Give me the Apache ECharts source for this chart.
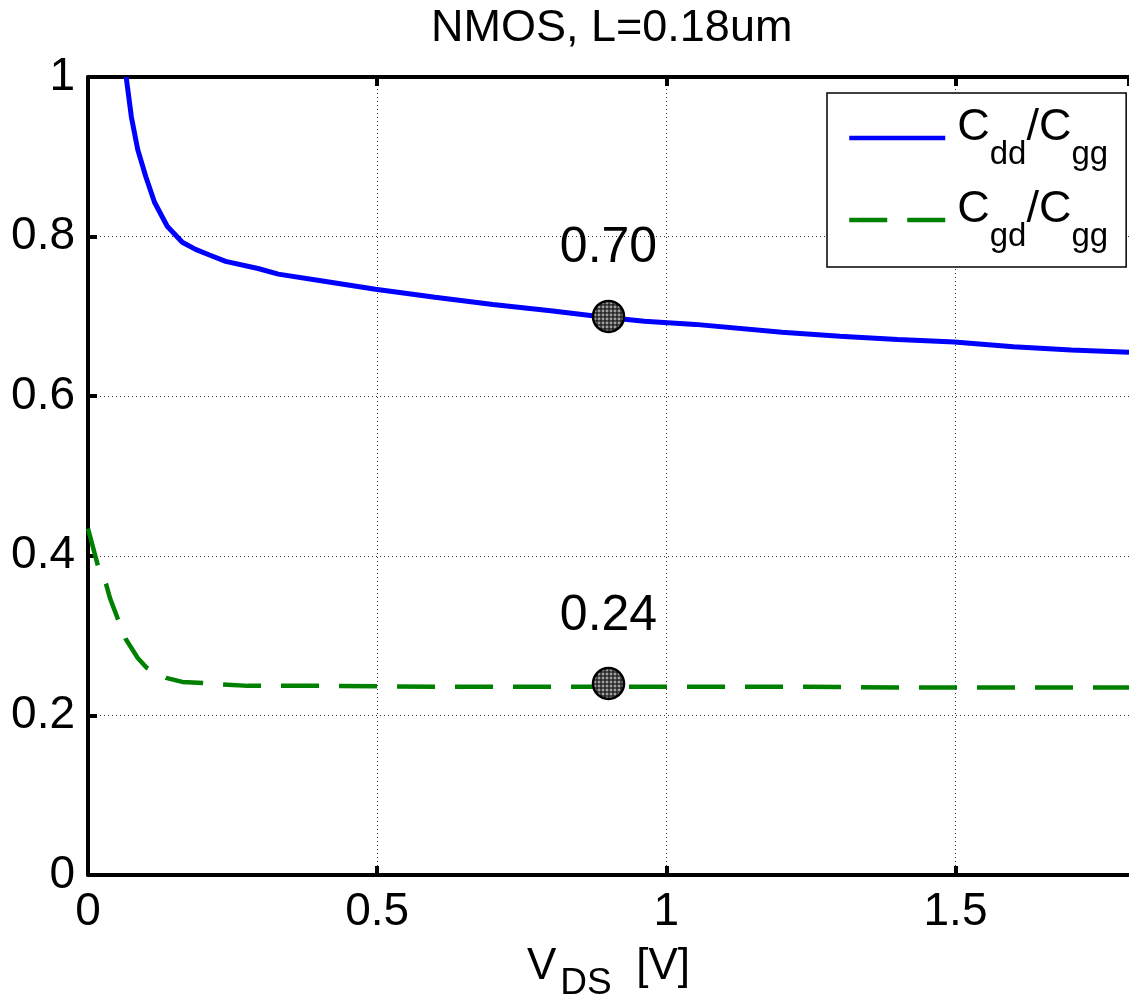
<!DOCTYPE html>
<html>
<head>
<meta charset="utf-8">
<script src="https://cdn.jsdelivr.net/npm/echarts@6/dist/echarts.min.js"></script>
<style>
  html, body { margin: 0; padding: 0; background: #fff; }
  #chart { width: 1129px; height: 1007px; }
</style>
</head>
<body>
<div id="chart"></div>
<script>
// Drain capacitance ratios of an NMOS device (L = 0.18 um) versus V_DS
const seriesNames = ['Cdd/Cgg', 'Cgd/Cgg'];

const vdsDd = [0.066, 0.075, 0.086, 0.1, 0.115, 0.137, 0.163, 0.186, 0.21, 0.238, 0.294, 0.329, 0.4, 0.497,
  0.6, 0.7, 0.8, 0.894, 0.962, 1.05, 1.2, 1.3, 1.4, 1.498, 1.6, 1.7, 1.8];
const cddRatio = [1.0, 0.95, 0.909, 0.875, 0.843, 0.813, 0.793, 0.784, 0.777, 0.769, 0.760, 0.753, 0.745, 0.734,
  0.724, 0.715, 0.707, 0.699, 0.694, 0.690, 0.680, 0.675, 0.671, 0.668, 0.662, 0.658, 0.655];

const vdsGd = [0, 0.017, 0.031, 0.038, 0.051, 0.065, 0.086, 0.101, 0.12, 0.135, 0.163, 0.19, 0.23, 0.277,
  0.4, 0.6, 0.8, 1.0, 1.2, 1.4, 1.6, 1.8];
const cgdRatio = [0.434, 0.388, 0.365, 0.347, 0.322, 0.296, 0.272, 0.260, 0.252, 0.247, 0.242, 0.241, 0.239, 0.237,
  0.237, 0.236, 0.236, 0.236, 0.236, 0.235, 0.235, 0.235];

// Highlighted operating point at V_DS = VDD/2
const markerVds = 0.9;
const markerValues = [0.70, 0.24];

const xTicks = { min: 0, max: 1.8, interval: 0.5 };
const yTicks = { min: 0, max: 1, interval: 0.2 };

const FONT = "'Liberation Sans', Arial, Helvetica, sans-serif";
const BLUE = '#0000ff';
const GREEN = '#008000';
const DASH = [38, 20];
const MARKER_SIZE = 31;

function zip(xs, ys) { return xs.map((x, i) => [x, ys[i]]); }

// Dotted texture for the marker fill (one 4px tile: dark grid, light dot)
function makeDotPattern() {
  const c = document.createElement('canvas');
  c.width = 4; c.height = 4;
  const g = c.getContext('2d');
  g.fillStyle = '#0a0a0a';
  g.fillRect(0, 0, 4, 4);
  g.fillStyle = '#8c8c8c';
  g.fillRect(1, 1, 3, 3);
  g.fillStyle = '#d8d8d8';
  g.fillRect(2, 2, 1, 1);
  return c;
}
const dotPattern = makeDotPattern();

// "Cdd/Cgg" -> rich text with subscripts
function subscriptName(name) {
  return name.split('/').map(p => '{m|' + p[0] + '}{s|' + p.slice(1) + '}').join('{m|/}');
}

const axisLine = { show: true, onZero: false, lineStyle: { color: '#000', width: 4 } };
const axisTick = { show: true, inside: true, length: 9, lineStyle: { color: '#000', width: 4 } };
const gridLine = { show: true, lineStyle: { color: '#333', width: 1, type: [1, 3] } };

const chart = echarts.init(document.getElementById('chart'), null, { renderer: 'canvas' });

chart.setOption({
  animation: false,
  backgroundColor: '#fff',
  title: {
    text: 'NMOS, L=0.18um',
    left: 431,
    top: 6,
    padding: 0,
    textStyle: { fontFamily: FONT, fontSize: 45, fontWeight: 'normal', color: '#000' }
  },
  grid: { left: 88, right: -10, top: 77, bottom: 129, containLabel: false },
  legend: {
    data: [
      { name: seriesNames[0], lineStyle: { color: BLUE, width: 4.5, type: 'solid' } },
      { name: seriesNames[1], lineStyle: { color: GREEN, width: 4.5, type: DASH, dashOffset: 0 } }
    ],
    orient: 'vertical',
    left: 827,
    top: 93,
    padding: [12, 18, 14, 20],
    itemGap: 16,
    itemWidth: 96,
    itemHeight: 20,
    backgroundColor: '#fff',
    borderColor: '#000',
    borderWidth: 1.5,
    borderRadius: 0,
    itemStyle: { opacity: 0 },
    lineStyle: { width: 4.5 },
    formatter: subscriptName,
    textStyle: {
      padding: [0, 0, 0, 7],
      rich: {
        m: { fontFamily: FONT, fontSize: 45, color: '#000', verticalAlign: 'top' },
        s: { fontFamily: FONT, fontSize: 33, color: '#000', verticalAlign: 'top', padding: [33, 0, 0, 0] }
      }
    }
  },
  xAxis: [{
    type: 'value',
    position: 'bottom',
    min: xTicks.min, max: xTicks.max, interval: xTicks.interval,
    axisLine, axisTick,
    splitLine: gridLine,
    axisLabel: { fontFamily: FONT, fontSize: 46, color: '#000', margin: 14, showMaxLabel: false },
    name: '{m|V}{s|DS}{m|  [V]}',
    nameLocation: 'middle',
    nameGap: 70,
    nameTextStyle: {
      rich: {
        m: { fontFamily: FONT, fontSize: 44, color: '#000', verticalAlign: 'top' },
        s: { fontFamily: FONT, fontSize: 37, color: '#000', verticalAlign: 'top', padding: [20, 0, 0, 4] }
      }
    }
  }, {
    type: 'value',
    position: 'top',
    min: xTicks.min, max: xTicks.max, interval: xTicks.interval,
    axisLine, axisTick,
    axisLabel: { show: false },
    splitLine: { show: false }
  }],
  yAxis: [{
    type: 'value',
    position: 'left',
    min: yTicks.min, max: yTicks.max, interval: yTicks.interval,
    axisLine, axisTick,
    splitLine: gridLine,
    axisLabel: { fontFamily: FONT, fontSize: 46, color: '#000', margin: 13 }
  }],
  series: [{
    name: seriesNames[0],
    type: 'line',
    data: zip(vdsDd, cddRatio),
    symbol: 'none',
    clip: true,
    lineStyle: { color: BLUE, width: 5, cap: 'butt' },
    itemStyle: { color: BLUE },
    z: 3
  }, {
    name: seriesNames[1],
    type: 'line',
    data: zip(vdsGd, cgdRatio),
    symbol: 'none',
    clip: true,
    lineStyle: { color: GREEN, width: 4.5, type: DASH, cap: 'butt' },
    itemStyle: { color: GREEN },
    z: 3
  }, {
    name: 'operating point',
    type: 'scatter',
    data: markerValues.map(v => [markerVds, v]),
    symbol: 'circle',
    symbolSize: MARKER_SIZE,
    itemStyle: {
      // symbols are drawn at unit size and scaled up, so the tile is scaled down to keep 4px dots
      color: { image: dotPattern, repeat: 'repeat', scaleX: 2 / MARKER_SIZE, scaleY: 2 / MARKER_SIZE },
      borderColor: '#000',
      borderWidth: 2.5,
      opacity: 1
    },
    label: {
      show: true,
      position: 'top',
      distance: 26,
      formatter: p => p.value[1].toFixed(2),
      fontFamily: FONT,
      fontSize: 50,
      color: '#000',
      opacity: 1
    },
    emphasis: { disabled: true },
    z: 5
  }]
});
</script>
</body>
</html>
